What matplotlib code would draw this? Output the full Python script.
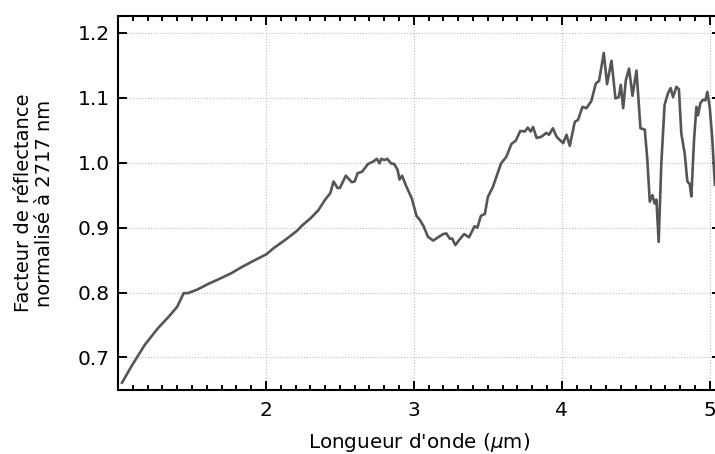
import matplotlib
matplotlib.use("Agg")
import matplotlib.pyplot as plt
from matplotlib.ticker import MultipleLocator, FuncFormatter, FormatStrFormatter

wavelength_um = [1.027, 1.09, 1.18, 1.27, 1.34, 1.40, 1.444, 1.473, 1.541, 1.608, 1.676, 1.768,
                 1.835, 1.926, 2.004, 2.05, 2.13, 2.21, 2.243, 2.30, 2.355, 2.40, 2.435, 2.457,
                 2.484, 2.50, 2.54, 2.58, 2.60, 2.62, 2.65, 2.69, 2.727, 2.75, 2.768, 2.78, 2.80,
                 2.82, 2.845, 2.867, 2.89, 2.903, 2.92, 2.95, 2.986, 3.018, 3.04, 3.066, 3.095,
                 3.13, 3.164, 3.198, 3.22, 3.243, 3.26, 3.28, 3.31, 3.34, 3.373, 3.41, 3.43,
                 3.453, 3.48, 3.50, 3.535, 3.562, 3.59, 3.625, 3.66, 3.689, 3.72, 3.75, 3.77,
                 3.79, 3.806, 3.83, 3.862, 3.896, 3.914, 3.94, 3.965, 4.009, 4.032, 4.054, 4.088,
                 4.11, 4.14, 4.167, 4.20, 4.23, 4.252, 4.284, 4.306, 4.336, 4.363, 4.385, 4.399,
                 4.415, 4.433, 4.455, 4.478, 4.505, 4.532, 4.561, 4.577, 4.595, 4.613, 4.628,
                 4.64, 4.655, 4.673, 4.695, 4.718, 4.736, 4.752, 4.775, 4.792, 4.808, 4.831,
                 4.849, 4.865, 4.876, 4.894, 4.91, 4.921, 4.937, 4.955, 4.971, 4.984, 5.0,
                 5.018, 5.035]
reflectance = [0.661, 0.686, 0.719, 0.745, 0.762, 0.778, 0.799, 0.799, 0.805, 0.813, 0.820, 0.830,
               0.839, 0.850, 0.859, 0.868, 0.881, 0.895, 0.903, 0.914, 0.927, 0.943, 0.953, 0.971,
               0.961, 0.961, 0.980, 0.970, 0.971, 0.984, 0.986, 0.998, 1.002, 1.006, 0.999, 1.006,
               1.004, 1.006, 0.999, 0.998, 0.989, 0.974, 0.980, 0.963, 0.945, 0.918, 0.912, 0.902,
               0.886, 0.880, 0.885, 0.890, 0.891, 0.883, 0.883, 0.873, 0.882, 0.890, 0.885, 0.902,
               0.900, 0.918, 0.921, 0.947, 0.963, 0.981, 0.999, 1.009, 1.029, 1.034, 1.049, 1.048,
               1.054, 1.048, 1.055, 1.038, 1.040, 1.046, 1.043, 1.053, 1.040, 1.030, 1.043, 1.026,
               1.063, 1.066, 1.086, 1.084, 1.095, 1.122, 1.126, 1.169, 1.121, 1.157, 1.099, 1.101,
               1.120, 1.084, 1.127, 1.145, 1.103, 1.142, 1.053, 1.051, 1.009, 0.940, 0.950, 0.937,
               0.943, 0.878, 0.999, 1.089, 1.107, 1.115, 1.101, 1.117, 1.113, 1.045, 1.014, 0.971,
               0.967, 0.948, 1.035, 1.086, 1.073, 1.092, 1.097, 1.096, 1.109, 1.086, 1.035, 0.966]

plt.rcParams['font.family'] = ['DejaVu Sans']
plt.rcParams['mathtext.fontset'] = 'dejavusans'

fig = plt.figure(figsize=(7.15, 4.54), dpi=100)
ax = fig.add_axes([118 / 715, 1 - 390 / 454, (720.5 - 118) / 715, (390 - 16) / 454])

ax.plot(wavelength_um, reflectance, color='#555555', lw=1.9, zorder=3)

ax.set_xlim(1.0, 5.073)
ax.set_ylim(0.6498, 1.226)

ax.xaxis.set_major_locator(MultipleLocator(1))
ax.xaxis.set_minor_locator(MultipleLocator(0.1))
ax.yaxis.set_major_locator(MultipleLocator(0.1))
ax.xaxis.set_major_formatter(FuncFormatter(lambda v, p: '' if abs(v - 1) < 1e-6 else '%d' % round(v)))
ax.yaxis.set_major_formatter(FormatStrFormatter('%.1f'))

ax.tick_params(axis='both', which='both', direction='in', top=True, right=True, width=1.4)
ax.tick_params(axis='both', which='major', length=6.5, labelsize=14.5)
ax.tick_params(axis='x', which='major', pad=8)
ax.tick_params(axis='y', which='major', pad=6)
ax.tick_params(axis='x', which='minor', length=3.4)

for s in ax.spines.values():
    s.set_linewidth(1.5)

ax.grid(True, which='major', linestyle=':', color='#bbbbbb', lw=0.8)

ax.set_xlabel("Longueur d'onde ($\\mu$m)", fontsize=14.3, labelpad=8)
ax.set_ylabel("Facteur de réflectance\nnormalisé à 2717 nm", fontsize=14, labelpad=17,
              multialignment='center', linespacing=1.15)

fig.savefig('out.png', dpi=100)
